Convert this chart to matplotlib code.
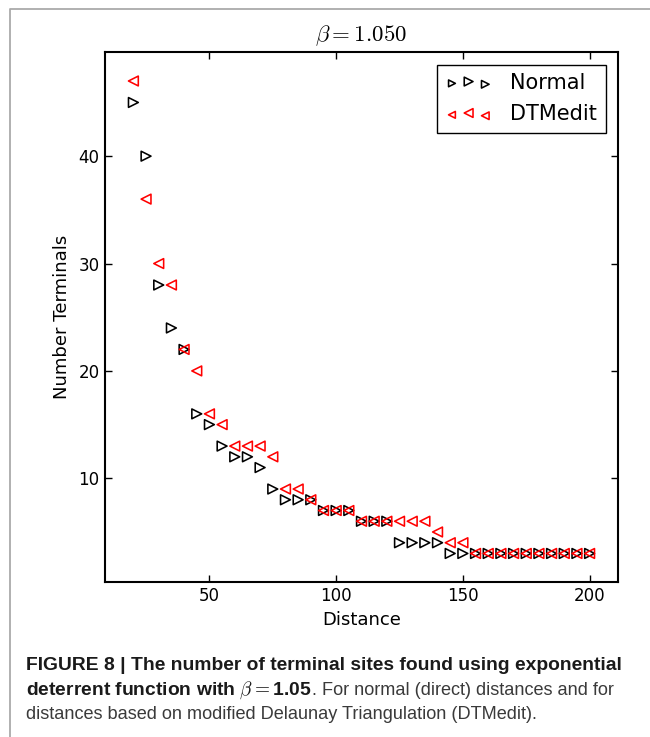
import matplotlib
matplotlib.use("Agg")
import matplotlib.pyplot as plt
from matplotlib.lines import Line2D
from matplotlib.legend_handler import HandlerPathCollection

plt.rcParams['mathtext.fontset'] = 'cm'

distances = [20, 25, 30, 35, 40, 45, 50, 55, 60, 65, 70, 75, 80, 85, 90, 95, 100,
             105, 110, 115, 120, 125, 130, 135, 140, 145, 150, 155, 160, 165, 170,
             175, 180, 185, 190, 195, 200]
normal = [45, 40, 28, 24, 22, 16, 15, 13, 12, 12, 11, 9, 8, 8, 8, 7, 7,
          7, 6, 6, 6, 4, 4, 4, 4, 3, 3, 3, 3, 3, 3,
          3, 3, 3, 3, 3, 3]
dtmedit = [47, 36, 30, 28, 22, 20, 16, 15, 13, 13, 13, 12, 9, 9, 8, 7, 7,
           7, 6, 6, 6, 6, 6, 6, 5, 4, 4, 3, 3, 3, 3,
           3, 3, 3, 3, 3, 3]
xticks = [50, 100, 150, 200]
yticks = [10, 20, 30, 40]
series_labels = ["Normal", "DTMedit"]
title = r"$\beta = 1.050$"
xlabel = "Distance"
ylabel = "Number Terminals"

W, H = 650, 737
fig = plt.figure(figsize=(W / 100, H / 100), dpi=100)

# grey frame of the page
fig.add_artist(Line2D([10 / W, 10 / W, 1.0], [0.0, 1 - 9 / H, 1 - 9 / H],
                      transform=fig.transFigure, color='#aaaaaa', lw=1.3))

ax = fig.add_axes([105 / W, 1 - 581.7 / H, (618 - 105) / W, (581.7 - 52) / H])

s1 = ax.scatter(distances, normal, marker='>', s=50, facecolors='none',
                edgecolors='black', linewidths=1.15, label=series_labels[0], zorder=3)
s2 = ax.scatter(distances, dtmedit, marker='<', s=50, facecolors='none',
                edgecolors='red', linewidths=1.15, label=series_labels[1], zorder=4)

ax.set_xlim(8.8, 211.2)
ax.set_ylim(0.37, 49.7)
ax.set_xticks(xticks)
ax.set_yticks(yticks)
ax.tick_params(direction='in', top=True, right=True, length=5, width=1,
               labelsize=12, pad=4)
for sp in ax.spines.values():
    sp.set_linewidth(1.5)

ax.set_xlabel(xlabel, fontsize=13, labelpad=4)
ax.set_ylabel(ylabel, fontsize=13, labelpad=5)
ax.set_title(title, fontsize=16.5, pad=8)

hmap = {s1: HandlerPathCollection(sizes=[24, 40, 30]),
        s2: HandlerPathCollection(sizes=[24, 40, 30])}
leg = ax.legend(loc='upper right', scatterpoints=3, fontsize=15,
                fancybox=False, edgecolor='black', framealpha=1,
                handler_map=hmap, borderaxespad=0.6, handletextpad=0.9,
                labelspacing=0.55, borderpad=0.4, handlelength=2.2)
leg.get_frame().set_linewidth(1.0)

# caption
cap_x = 26 / W
fs_b = 13.9
fs_r = 13.05
fig.text(cap_x, 1 - 670 / H, "FIGURE 8 | The number of terminal sites found using exponential",
         fontsize=fs_b, fontweight='bold', family='Liberation Sans', color='#1a1a1a',
         va='baseline', ha='left')
t_bold = fig.text(cap_x, 1 - 695 / H, r"deterrent function with $\beta = $1.05",
                  fontsize=fs_b, fontweight='bold', family='Liberation Sans', color='#1a1a1a',
                  va='baseline', ha='left')
fig.canvas.draw()
r = fig.canvas.get_renderer()
bb = t_bold.get_window_extent(r)
fig.text(bb.x1 / W, 1 - 695 / H, ". For normal (direct) distances and for",
         fontsize=fs_r, family='Liberation Sans', color='#3a3a3a',
         va='baseline', ha='left')
fig.text(cap_x, 1 - 719 / H, "distances based on modified Delaunay Triangulation (DTMedit).",
         fontsize=fs_r, family='Liberation Sans', color='#3a3a3a',
         va='baseline', ha='left')

fig.savefig("out.png", dpi=100)
